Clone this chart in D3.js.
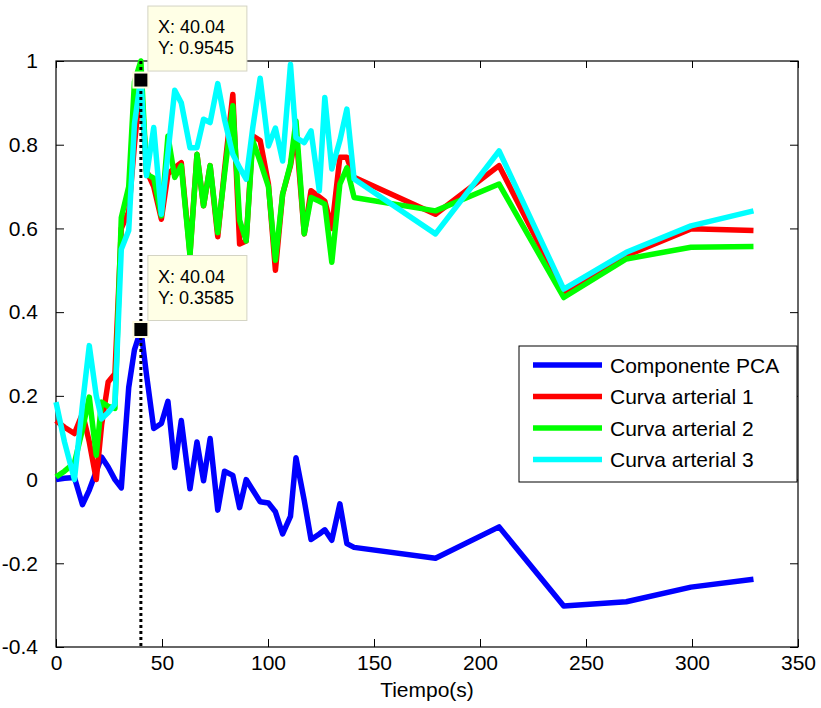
<!DOCTYPE html>
<html>
<head>
<meta charset="utf-8">
<script src="https://cdn.jsdelivr.net/npm/d3@7"></script>
<style>
  body { margin: 0; background: #fff; }
  svg { font-family: "Liberation Sans", Arial, sans-serif; }
</style>
</head>
<body>
<div id="chart"></div>
<script>
// sample times (s)
const tiempo = [0, 4, 8.7, 12.5, 15.7, 19, 21.5, 24.6, 27.8, 30.8, 34.3, 37, 40.04, 42.7, 46.1, 49.7,
  52.8, 56, 59.1, 63.2, 66.5, 69.6, 72.7, 76.3, 79.5, 83.4, 86.6, 89.7, 92.8, 96.3, 100.2, 103.5,
  106.9, 110.6, 113.2, 117.1, 120.3, 124.2, 126.8, 130.1, 133.9, 137.2, 140.6, 179, 209, 239.5, 269, 299.5, 329];

const pca = [0, 0.003, 0.005, -0.06, -0.025, 0.02, 0.054, 0.03, 0.0, -0.02, 0.22, 0.31, 0.3585, 0.25, 0.122, 0.134,
  0.187, 0.029, 0.141, -0.022, 0.09, -0.003, 0.098, -0.073, 0.02, 0.01, -0.067, 0, -0.025, -0.053, -0.056, -0.077,
  -0.13, -0.088, 0.052, -0.05, -0.143, -0.13, -0.12, -0.145, -0.058, -0.153, -0.162, -0.188, -0.113, -0.302, -0.292, -0.257, -0.238];

const arterial1 = [0.141, 0.125, 0.11, 0.158, 0.09, 0.0, 0.13, 0.233, 0.253, 0.6, 0.64, 0.8, 0.9545, 0.738, 0.7, 0.622,
  0.73, 0.745, 0.757, 0.54, 0.777, 0.654, 0.75, 0.58, 0.74, 0.92, 0.563, 0.57, 0.821, 0.81, 0.706, 0.5,
  0.682, 0.75, 0.83, 0.587, 0.69, 0.675, 0.665, 0.6, 0.77, 0.77, 0.722, 0.634, 0.75, 0.447, 0.535, 0.599, 0.595];

const arterial2 = [0.006, 0.02, 0.04, 0.12, 0.197, 0.058, 0.185, 0.175, 0.17, 0.626, 0.7, 0.95, 1.0, 0.73, 0.72, 0.63,
  0.821, 0.722, 0.75, 0.535, 0.777, 0.654, 0.75, 0.59, 0.73, 0.893, 0.62, 0.57, 0.81, 0.76, 0.7, 0.524,
  0.682, 0.754, 0.857, 0.587, 0.674, 0.665, 0.658, 0.519, 0.706, 0.745, 0.674, 0.642, 0.706, 0.435, 0.527, 0.555, 0.557];

const arterial3 = [0.185, 0.09, 0.0, 0.18, 0.32, 0.2, 0.145, 0.16, 0.18, 0.55, 0.595, 0.85, 0.96, 0.726, 0.841, 0.634,
  0.78, 0.93, 0.9, 0.793, 0.793, 0.861, 0.853, 0.946, 0.86, 0.777, 0.745, 0.718, 0.84, 0.959, 0.797, 0.84,
  0.761, 0.992, 0.817, 0.805, 0.833, 0.69, 0.913, 0.742, 0.81, 0.885, 0.718, 0.587, 0.785, 0.455, 0.543, 0.606, 0.642];

const seriesNames = ["Componente PCA", "Curva arterial 1", "Curva arterial 2", "Curva arterial 3"];
const seriesColors = ["#0000ff", "#ff0000", "#00ff00", "#00ffff"];
const seriesValues = [pca, arterial1, arterial2, arterial3];

const xTicks = [0, 50, 100, 150, 200, 250, 300, 350];
const yTicks = [-0.4, -0.2, 0, 0.2, 0.4, 0.6, 0.8, 1];
const yTickLabels = ["-0.4", "-0.2", "0", "0.2", "0.4", "0.6", "0.8", "1"];

// data tips
const tipX = 40.04;
const tipValues = [0.9545, 0.3585];

const margin = {top: 61, right: 23, bottom: 61, left: 56},
      width = 821 - margin.left - margin.right,
      height = 708 - margin.top - margin.bottom;

const svg = d3.select("#chart")
  .append("svg")
  .attr("width", 821)
  .attr("height", 708)
  .append("g")
  .attr("transform", `translate(${margin.left},${margin.top})`);

const x = d3.scaleLinear().domain([0, 350]).range([0, width]);
const y = d3.scaleLinear().domain([-0.4, 1]).range([height, 0]);

// axes, MATLAB style: ticks inside, labels on bottom/left
svg.append("g").attr("transform", `translate(0,${height})`)
  .call(d3.axisBottom(x).tickValues(xTicks).tickSize(-8).tickPadding(8).tickFormat(d3.format("d")));
svg.append("g")
  .call(d3.axisLeft(y).tickValues(yTicks).tickSize(-8).tickPadding(18)
    .tickFormat((d, i) => yTickLabels[i]));
svg.append("g").call(d3.axisTop(x).tickValues(xTicks).tickSize(-7).tickFormat(""));
svg.append("g").attr("transform", `translate(${width},0)`)
  .call(d3.axisRight(y).tickValues(yTicks).tickSize(-8).tickFormat(""));

svg.selectAll(".domain").remove();
svg.selectAll(".tick line").attr("stroke", "#000");
svg.selectAll(".tick text").attr("fill", "#000").style("font-size", "21px");

svg.append("rect")
  .attr("width", width).attr("height", height)
  .attr("fill", "none").attr("stroke", "#000").attr("stroke-width", 1.2);

svg.append("text")
  .attr("x", width / 2).attr("y", height + 50)
  .attr("text-anchor", "middle").style("font-size", "21px")
  .text("Tiempo(s)");

const line = d3.line().x((d, i) => x(tiempo[i])).y(d => y(d));

svg.selectAll(".serie")
  .data(seriesValues)
  .enter().append("path")
  .attr("class", "serie")
  .attr("d", d => line(d))
  .attr("fill", "none")
  .attr("stroke", (d, i) => seriesColors[i])
  .attr("stroke-width", 5.5)
  .attr("stroke-linejoin", "round");

// dotted cursor line
svg.append("line")
  .attr("x1", x(tipX)).attr("x2", x(tipX))
  .attr("y1", 0).attr("y2", height)
  .attr("stroke", "#000").attr("stroke-width", 3)
  .attr("stroke-dasharray", "3,3");

tipValues.forEach(v => {
  const cx = x(tipX), cy = y(v);
  svg.append("rect")
    .attr("x", cx - 7.5).attr("y", cy - 7.5)
    .attr("width", 15).attr("height", 15)
    .attr("fill", "#000").attr("stroke", "#fffbe0").attr("stroke-width", 2);

  const box = svg.append("g").attr("transform", `translate(${cx + 7},${cy - 74})`);
  box.append("rect")
    .attr("width", 99).attr("height", 65)
    .attr("fill", "#ffffe6").attr("stroke", "#d4d4c4");
  box.append("text").attr("x", 10).attr("y", 27).style("font-size", "18px").text("X: " + tipX);
  box.append("text").attr("x", 10).attr("y", 48).style("font-size", "18px").text("Y: " + v);
});

// legend
const legend = svg.append("g").attr("transform", `translate(${519 - margin.left},${346 - margin.top})`);
legend.append("rect")
  .attr("width", 278).attr("height", 136)
  .attr("fill", "#fff").attr("stroke", "#000").attr("stroke-width", 1);

seriesNames.forEach((name, i) => {
  const ly = 19 + i * 31.5;
  legend.append("line")
    .attr("x1", 14).attr("x2", 83).attr("y1", ly).attr("y2", ly)
    .attr("stroke", seriesColors[i]).attr("stroke-width", 5.5);
  legend.append("text")
    .attr("x", 91).attr("y", ly + 7.5)
    .style("font-size", "21px")
    .text(name);
});
</script>
</body>
</html>
